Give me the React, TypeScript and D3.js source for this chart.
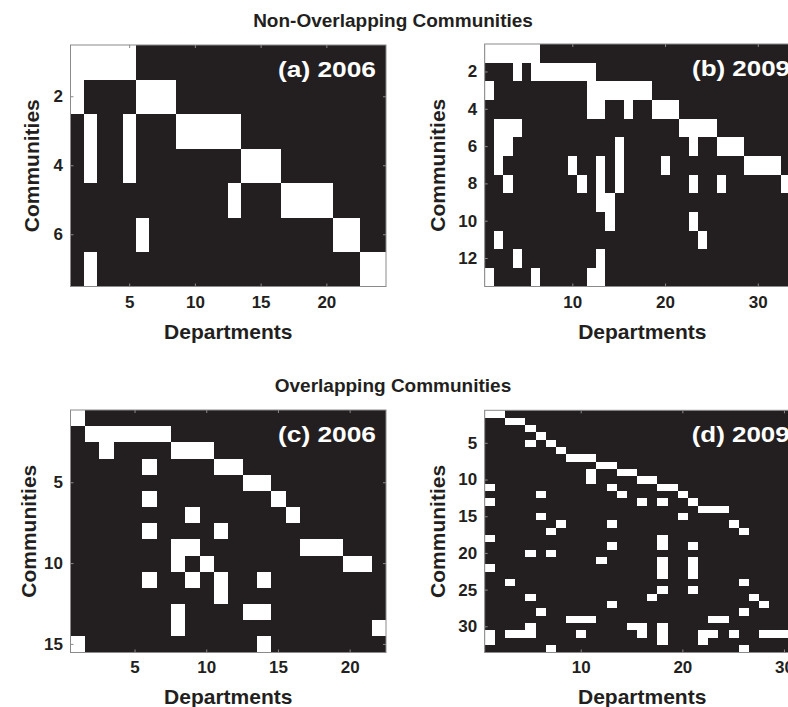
import React, { useEffect, useRef } from 'react';
import * as d3 from 'd3';

// community membership matrices: each row = one community, numbers = departments in it
const rows_a_2006 = [
  [1, 2, 3, 4, 5],
  [1, 6, 7, 8],
  [2, 5, 9, 10, 11, 12, 13],
  [2, 5, 14, 15, 16],
  [13, 17, 18, 19, 20],
  [6, 21, 22],
  [2, 23, 24],
];

const rows_b_2009 = [
  [1, 2, 3, 4, 5, 6],
  [4, 6, 7, 8, 9, 10, 11, 12],
  [1, 12, 13, 14, 15, 16, 17, 18],
  [12, 13, 16, 19, 20, 21],
  [2, 3, 4, 22, 23, 24, 25],
  [2, 3, 15, 23, 26, 27, 28],
  [2, 10, 13, 15, 20, 29, 30, 31, 32],
  [3, 11, 13, 15, 23, 26, 33, 34],
  [13, 14],
  [14, 23],
  [2, 24],
  [4, 13],
  [1, 6, 12, 13],
];

const rows_c_2006 = [
  [1],
  [2, 3, 4, 5, 6, 7],
  [3, 8, 9, 10],
  [6, 11, 12],
  [13, 14],
  [6, 15],
  [9, 16],
  [6, 11],
  [8, 9, 17, 18, 19],
  [8, 10, 20, 21],
  [6, 9, 11, 14],
  [11],
  [8, 13, 14],
  [8, 22],
  [1, 14],
];

const rows_d_2009 = [
  [1, 2],
  [3, 4],
  [5],
  [6],
  [5, 7],
  [8],
  [9, 10, 11],
  [12, 13],
  [11, 14, 15],
  [11, 16, 17],
  [1, 13, 18, 19],
  [6, 14, 20],
  [1, 16, 18, 21],
  [22, 23, 24],
  [6, 20],
  [8, 13, 25],
  [7, 26],
  [1, 18],
  [13, 18, 21],
  [5, 7],
  [12, 18, 21],
  [1, 18, 21],
  [18, 21],
  [3, 26],
  [18, 21],
  [5, 17, 27],
  [13, 28],
  [6, 26],
  [9, 10, 11, 23, 24],
  [5, 15, 16, 18],
  [1, 3, 4, 5, 10, 16, 18, 22, 23, 25, 28, 29, 30, 31],
  [1, 18, 22],
  [7, 26],
];

const deptCount_2006_non = 24;
const deptCount_2009_non = 34;
const deptCount_2006_ovl = 22;
const deptCount_2009_ovl = 31;

const xticks_2006 = [5, 10, 15, 20];
const xticks_2009 = [10, 20, 30];
const yticks_a = [2, 4, 6];
const yticks_b = [2, 4, 6, 8, 10, 12];
const yticks_c = [5, 10, 15];
const yticks_d = [5, 10, 15, 20, 25, 30];

const titles = ['Non-Overlapping Communities', 'Overlapping Communities'];

const FONT = "'Liberation Sans', Arial, Helvetica, sans-serif";
const DARK = '#231f20';

// where each panel sits on the page
const panels = [
  { rows: rows_a_2006, ncols: deptCount_2006_non, xt: xticks_2006, yt: yticks_a, label: '(a) 2006',
    x0: 70.5, x1: 386, y0: 45, y1: 286.5, ylabX: 38.5, tickPad: 9, xlabOff: 52.5 },
  { rows: rows_b_2009, ncols: deptCount_2009_non, xt: xticks_2009, yt: yticks_b, label: '(b) 2009',
    x0: 484.7, x1: 800, y0: 44, y1: 286.5, ylabX: 445, tickPad: 9, xlabOff: 52.5 },
  { rows: rows_c_2006, ncols: deptCount_2006_ovl, xt: xticks_2006, yt: yticks_c, label: '(c) 2006',
    x0: 70.5, x1: 386, y0: 410, y1: 652.5, ylabX: 36, tickPad: 8, xlabOff: 51 },
  { rows: rows_d_2009, ncols: deptCount_2009_ovl, xt: xticks_2009, yt: yticks_d, label: '(d) 2009',
    x0: 484.7, x1: 799.7, y0: 410.3, y1: 652.5, ylabX: 445, tickPad: 8, xlabOff: 51 },
];

function drawPanel(svg: any, p: any) {
  const x = d3.scaleBand<number>().domain(d3.range(1, p.ncols + 1)).range([p.x0, p.x1]);
  const y = d3.scaleBand<number>().domain(d3.range(1, p.rows.length + 1)).range([p.y0, p.y1]);

  const g = svg.append('g');

  // black background of the image
  g.append('rect')
    .attr('x', p.x0).attr('y', p.y0)
    .attr('width', p.x1 - p.x0).attr('height', p.y1 - p.y0)
    .attr('fill', DARK);

  const cells = p.rows.flatMap((cols: number[], i: number) => cols.map((c) => ({ row: i + 1, col: c })));

  g.append('g')
    .attr('shape-rendering', 'crispEdges')
    .selectAll('rect')
    .data(cells)
    .enter()
    .append('rect')
    .attr('x', (d: any) => x(d.col))
    .attr('y', (d: any) => y(d.row))
    .attr('width', x.bandwidth())
    .attr('height', y.bandwidth())
    .attr('fill', '#fff');

  // matlab style axes, ticks pointing inwards
  const styleAxis = (a: any) => {
    a.select('.domain').remove();
    a.selectAll('line').attr('stroke', '#8a8a8a');
    a.selectAll('text')
      .attr('fill', DARK)
      .style('font-family', FONT)
      .style('font-weight', 'bold')
      .style('font-size', '17px');
  };

  g.append('g')
    .attr('transform', `translate(0,${p.y1})`)
    .call(d3.axisBottom(x).tickValues(p.xt).tickSizeInner(-3).tickSizeOuter(0).tickPadding(p.tickPad))
    .call(styleAxis);
  g.append('g')
    .attr('transform', `translate(0,${p.y0})`)
    .call(d3.axisTop(x).tickValues(p.xt).tickSizeInner(-3).tickSizeOuter(0).tickFormat(() => ''))
    .call(styleAxis);
  g.append('g')
    .attr('transform', `translate(${p.x0},0)`)
    .call(d3.axisLeft(y).tickValues(p.yt).tickSizeInner(-3).tickSizeOuter(0).tickPadding(7.5))
    .call(styleAxis);
  g.append('g')
    .attr('transform', `translate(${p.x1},0)`)
    .call(d3.axisRight(y).tickValues(p.yt).tickSizeInner(-3).tickSizeOuter(0).tickFormat(() => ''))
    .call(styleAxis);

  // box
  g.append('rect')
    .attr('x', p.x0).attr('y', p.y0)
    .attr('width', p.x1 - p.x0).attr('height', p.y1 - p.y0)
    .attr('fill', 'none')
    .attr('stroke', '#8a8a8a')
    .attr('stroke-width', 1);

  // (a) 2006 etc
  g.append('text')
    .attr('x', p.x1 - 10)
    .attr('y', p.y0 + 32)
    .attr('text-anchor', 'end')
    .attr('textLength', 98)
    .attr('lengthAdjust', 'spacingAndGlyphs')
    .attr('fill', '#fff')
    .style('font-family', FONT)
    .style('font-weight', 'bold')
    .style('font-size', '22px')
    .text(p.label);

  g.append('text')
    .attr('x', (p.x0 + p.x1) / 2)
    .attr('y', p.y1 + p.xlabOff)
    .attr('text-anchor', 'middle')
    .attr('fill', DARK)
    .style('font-family', FONT)
    .style('font-weight', 'bold')
    .style('font-size', '21px')
    .text('Departments');

  g.append('text')
    .attr('transform', `translate(${p.ylabX},${(p.y0 + p.y1) / 2}) rotate(-90)`)
    .attr('text-anchor', 'middle')
    .attr('fill', DARK)
    .style('font-family', FONT)
    .style('font-weight', 'bold')
    .style('font-size', '21px')
    .text('Communities');
}

export default function App() {
  const ref = useRef<SVGSVGElement>(null);

  useEffect(() => {
    const svg = d3.select(ref.current);
    svg.selectAll('*').remove();

    svg.append('rect').attr('width', 788).attr('height', 707).attr('fill', '#fff');

    panels.forEach((p) => drawPanel(svg, p));

    // section titles
    svg.selectAll('text.title')
      .data(titles)
      .enter()
      .append('text')
      .attr('class', 'title')
      .attr('x', 393)
      .attr('y', (d, i) => (i === 0 ? 27 : 392))
      .attr('text-anchor', 'middle')
      .attr('fill', DARK)
      .style('font-family', FONT)
      .style('font-weight', 'bold')
      .style('font-size', '19px')
      .text((d) => d);
  }, []);

  return (
    <svg
      ref={ref}
      width={788}
      height={707}
      style={{ position: 'absolute', left: 0, top: 0, display: 'block' }}
    />
  );
}
